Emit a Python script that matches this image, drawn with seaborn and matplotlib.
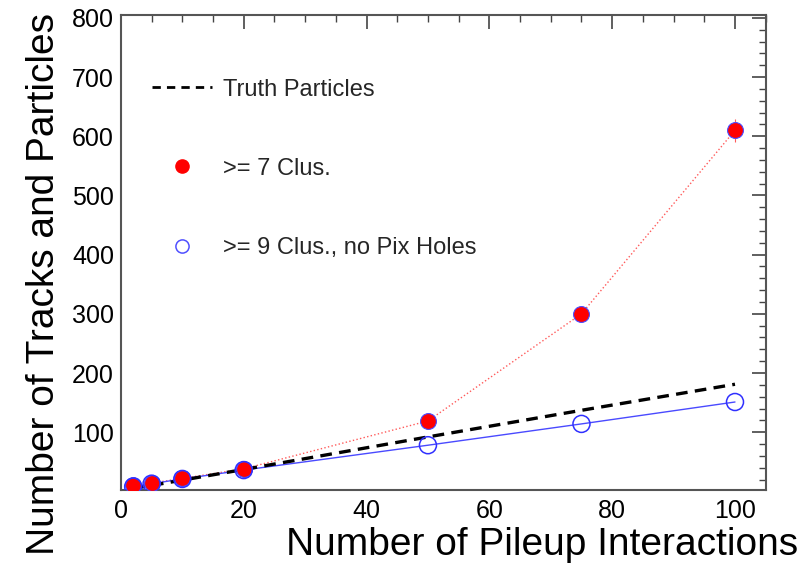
import numpy as np
import pandas as pd
import matplotlib
matplotlib.use("Agg")
import matplotlib.pyplot as plt
from matplotlib.lines import Line2D
from matplotlib.ticker import MultipleLocator
import seaborn as sns

# data
pileup = [2, 5, 10, 20, 50, 75, 100]
truth = [5, 10, 19, 37, 92, 137, 181]
clus7 = [10, 14, 22, 38, 119, 300, 610]
clus7_err = [1, 1, 1, 2, 4, 8, 20]
clus9 = [8, 13, 21, 36, 78, 114, 151]

labels = ["Truth Particles", ">= 7 Clus.", ">= 9 Clus., no Pix Holes"]
xlabel = "Number of Pileup Interactions"
ylabel = "Number of Tracks and Particles"

sns.set_theme(style="white")
plt.rcParams['font.family'] = ['Liberation Sans', 'DejaVu Sans']

df = pd.DataFrame({"x": pileup, "truth": truth, "c7": clus7, "c9": clus9})

fig = plt.figure(figsize=(8.06, 5.74), dpi=100)
ax = fig.add_axes([0.150, 0.146, 0.800, 0.828])

sns.lineplot(data=df, x="x", y="truth", ax=ax, color="black", lw=2.4,
             linestyle=(0, (3.5, 2.2)), zorder=3)
sns.lineplot(data=df, x="x", y="c7", ax=ax, color="#ff5a5a", lw=1.0,
             linestyle=":", zorder=2)
sns.lineplot(data=df, x="x", y="c9", ax=ax, color="#4a4aff", lw=1.0, zorder=2)
ax.errorbar(pileup, clus7, yerr=clus7_err, fmt="none", ecolor="#ff5a5a",
            elinewidth=0.8, linestyle=":", zorder=2)
sns.scatterplot(data=df, x="x", y="c7", ax=ax, color="red", s=130,
                edgecolor="#4a4aff", linewidth=0.8, zorder=4)
sns.scatterplot(data=df, x="x", y="c9", ax=ax, facecolor="none", s=150,
                edgecolor="#3030ff", linewidth=1.1, zorder=5)

ax.set_xlim(0, 105)
ax.set_ylim(2, 805)
ax.xaxis.set_major_locator(MultipleLocator(20))
ax.xaxis.set_minor_locator(MultipleLocator(5))
ax.set_yticks([100, 200, 300, 400, 500, 600, 700, 800])
ax.yaxis.set_minor_locator(MultipleLocator(20))
ax.tick_params(which="both", direction="in", top=True, right=True,
               color="#444444", labelsize=18, labelcolor="black")
ax.tick_params(which="major", length=10, width=1.2)
ax.tick_params(which="minor", length=5, width=1.0)
ax.tick_params(axis="x", pad=6)
ax.tick_params(axis="y", pad=5)
for s in ax.spines.values():
    s.set_color("#555555")
    s.set_linewidth(1.5)

ax.set_xlabel(xlabel, fontsize=28, color="black")
ax.xaxis.label.set_ha("right")
ax.xaxis.set_label_coords(1.05, -0.078)
ax.set_ylabel(ylabel, fontsize=28, color="black")
ax.yaxis.label.set_ha("right")
ax.yaxis.set_label_coords(-0.092, 1.005)

handles = [
    Line2D([], [], color="black", lw=2.0, linestyle=(0, (3, 2.2))),
    Line2D([], [], color="red", marker="o", markersize=9.5, linestyle="none",
           markeredgecolor="red"),
    Line2D([], [], color="#5050ff", marker="o", markersize=9.5, linestyle="none",
           markerfacecolor="none", markeredgewidth=1.1),
]
leg = ax.legend(handles, labels, loc="upper left", bbox_to_anchor=(0.048, 0.866),
                frameon=False, fontsize=17, handlelength=2.55,
                labelspacing=2.42, handletextpad=0.47, borderpad=0,
                borderaxespad=0)

fig.savefig("out.png", dpi=100)
